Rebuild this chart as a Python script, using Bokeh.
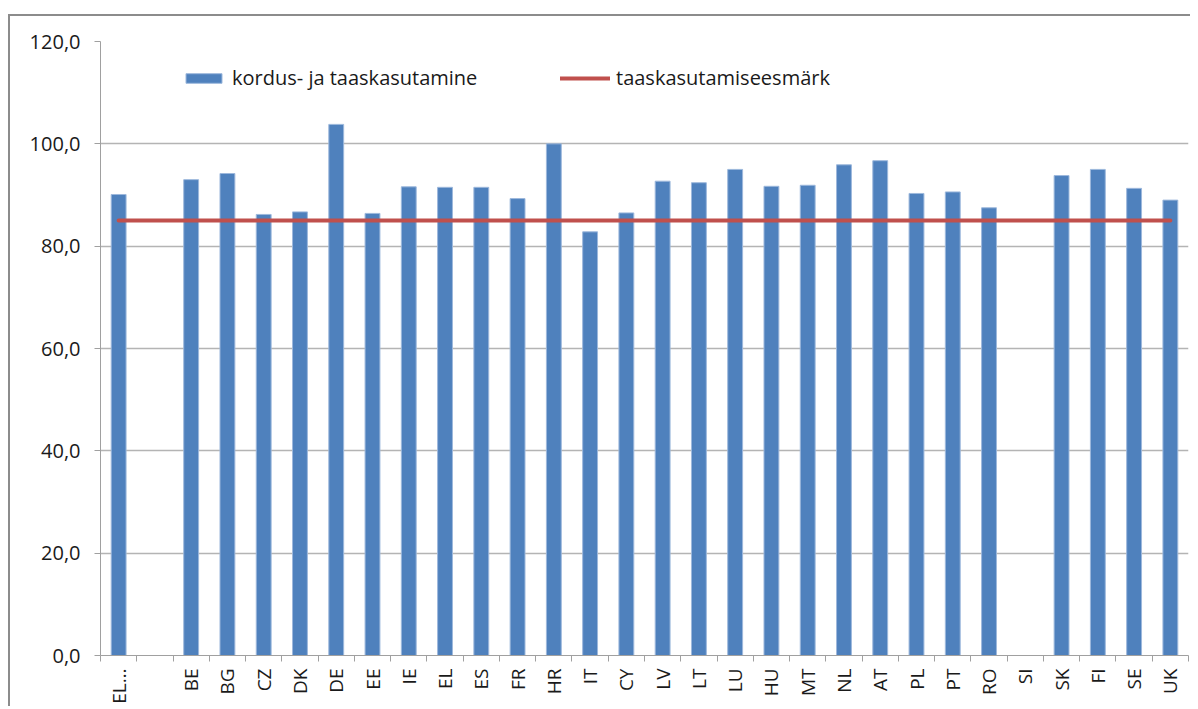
import math
from bokeh.plotting import figure
from bokeh.models import (ColumnDataSource, FixedTicker, CustomJSTickFormatter,
                          Range1d, Legend, LegendItem)
from bokeh.embed import file_html
from bokeh.resources import INLINE

nan = float("nan")

categories = ["EL…", "", "BE", "BG", "CZ", "DK", "DE", "EE", "IE", "EL", "ES",
              "FR", "HR", "IT", "CY", "LV", "LT", "LU", "HU", "MT", "NL", "AT",
              "PL", "PT", "RO", "SI", "SK", "FI", "SE", "UK"]
reuse = [90.1, nan, 93.0, 94.2, 86.2, 86.7, 103.8, 86.4, 91.6, 91.5, 91.5,
         89.3, 100.0, 82.8, 86.5, 92.7, 92.4, 95.0, 91.7, 91.9, 95.9, 96.7,
         90.3, 90.6, 87.5, nan, 93.8, 95.0, 91.3, 89.0]
target = [85.0] * len(categories)
y_ticks = [0, 20, 40, 60, 80, 100, 120]
series_names = ["kordus- ja taaskasutamine", "taaskasutamiseesmärk"]

FONT = "Open Sans"
n = len(categories)
centers = [i + 0.5 for i in range(n)]
bounds = [float(i) for i in range(n + 1)]

src = ColumnDataSource(dict(x=centers, reuse=reuse, target=target, cat=categories))

p = figure(frame_width=1088, frame_height=614,
           min_border_left=90, min_border_top=25, min_border_right=2, min_border_bottom=0,
           x_range=Range1d(0, n), y_range=Range1d(0, 120),
           output_backend="svg", toolbar_location=None)
p.styles = {"border-top": "2px solid #8c8c8c", "border-left": "2px solid #8c8c8c",
            "margin-top": "14px", "margin-left": "8px"}
p.outline_line_color = None
p.background_fill_color = "white"
p.border_fill_color = "white"

r_bar = p.vbar(x="x", top="reuse", width=0.41, bottom=0, source=src,
               fill_color="#4F81BD", line_color="#9db8dc", line_width=1)
r_line = p.line(x="x", y="target", source=src, line_color="#C0504D",
                line_width=4, line_cap="round")

# x axis
xa = p.xaxis[0]
xa.ticker = FixedTicker(ticks=centers, minor_ticks=bounds)
xa.formatter = CustomJSTickFormatter(args=dict(labels=categories),
                                     code="return labels[Math.floor(tick)];")
xa.major_label_orientation = math.pi / 2
xa.major_tick_in = 0
xa.major_tick_out = 0
xa.minor_tick_in = 0
xa.minor_tick_out = 6
xa.minor_tick_line_color = "#a0a0a0"
xa.axis_line_color = "#a0a0a0"
xa.major_label_text_font = FONT
xa.major_label_text_font_size = "19px"
xa.major_label_text_color = "#1a1a1a"
xa.major_label_standoff = 7

# y axis
ya = p.yaxis[0]
ya.ticker = FixedTicker(ticks=y_ticks)
ya.formatter = CustomJSTickFormatter(code="return tick.toFixed(1).replace('.', ',');")
ya.major_tick_in = 0
ya.major_tick_out = 6
ya.minor_tick_line_color = None
ya.major_tick_line_color = "#a0a0a0"
ya.axis_line_color = "#a0a0a0"
ya.major_label_text_font = FONT
ya.major_label_text_font_size = "20px"
ya.major_label_text_color = "#1a1a1a"
ya.major_label_standoff = 14

p.xgrid.grid_line_color = None
p.ygrid.grid_line_color = "#b4b4b4"
p.ygrid.grid_line_width = 1.5

def make_legend(label, rend, loc, gw):
    lg = Legend(items=[LegendItem(label=label, renderers=[rend])], location=loc,
                orientation="horizontal", border_line_color=None,
                background_fill_alpha=0, padding=0, margin=0,
                glyph_width=gw, glyph_height=12, label_standoff=6,
                label_text_font=FONT, label_text_font_size="20px",
                label_text_color="#1a1a1a")
    return lg

p.add_layout(make_legend(series_names[0], r_bar, (81, 564), 45))
p.add_layout(make_legend(series_names[1], r_line, (460, 564), 50))

open("out.html", "w").write(file_html(p, INLINE))
